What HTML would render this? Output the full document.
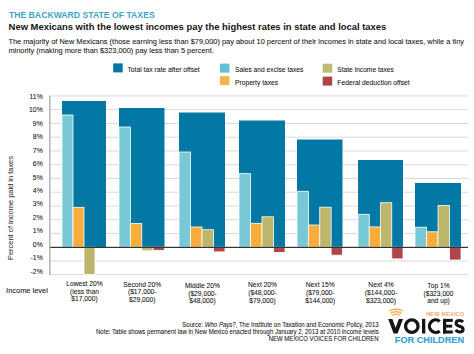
<!DOCTYPE html>
<html><head><meta charset="utf-8">
<style>
html,body{margin:0;padding:0;}
body{width:474px;height:354px;overflow:hidden;background:#fff;}
svg{position:absolute;left:0;top:0;font-family:"Liberation Sans",sans-serif;}
</style></head><body>
<svg width="474" height="354">
<rect x="50" y="95.45" width="418" height="1" fill="#d9d9d9"/>
<rect x="50" y="109.20" width="418" height="1" fill="#d9d9d9"/>
<rect x="50" y="122.95" width="418" height="1" fill="#d9d9d9"/>
<rect x="50" y="136.70" width="418" height="1" fill="#d9d9d9"/>
<rect x="50" y="150.45" width="418" height="1" fill="#d9d9d9"/>
<rect x="50" y="164.20" width="418" height="1" fill="#d9d9d9"/>
<rect x="50" y="177.95" width="418" height="1" fill="#d9d9d9"/>
<rect x="50" y="191.70" width="418" height="1" fill="#d9d9d9"/>
<rect x="50" y="205.45" width="418" height="1" fill="#d9d9d9"/>
<rect x="50" y="219.20" width="418" height="1" fill="#d9d9d9"/>
<rect x="50" y="232.95" width="418" height="1" fill="#d9d9d9"/>
<rect x="50" y="260.45" width="418" height="1" fill="#d9d9d9"/>
<rect x="50" y="274.20" width="418" height="1" fill="#d9d9d9"/>
<rect x="62" y="101" width="44" height="146.2" fill="#0478a5"/>
<rect x="62.00" y="115.00" width="11.00" height="132.20" fill="#78c8d6" stroke="#fff" stroke-width="0.8"/>
<rect x="73.00" y="207.30" width="11.00" height="39.90" fill="#f6ad3c" stroke="#fff" stroke-width="0.8"/>
<rect x="84.00" y="247.20" width="11.00" height="27.20" fill="#bcb56c" stroke="#fff" stroke-width="0.8"/>
<rect x="119" y="108" width="45.5" height="139.2" fill="#0478a5"/>
<rect x="119.00" y="127.00" width="11.38" height="120.20" fill="#78c8d6" stroke="#fff" stroke-width="0.8"/>
<rect x="130.38" y="223.40" width="11.38" height="23.80" fill="#f6ad3c" stroke="#fff" stroke-width="0.8"/>
<rect x="141.75" y="247.20" width="11.38" height="3.60" fill="#bcb56c" stroke="#fff" stroke-width="0.8"/>
<rect x="153.12" y="247.20" width="11.38" height="3.10" fill="#ad4549" stroke="#fff" stroke-width="0.8"/>
<rect x="179" y="112.5" width="46" height="134.7" fill="#0478a5"/>
<rect x="179.00" y="152.00" width="11.50" height="95.20" fill="#78c8d6" stroke="#fff" stroke-width="0.8"/>
<rect x="190.50" y="227.00" width="11.50" height="20.20" fill="#f6ad3c" stroke="#fff" stroke-width="0.8"/>
<rect x="202.00" y="229.70" width="11.50" height="17.50" fill="#bcb56c" stroke="#fff" stroke-width="0.8"/>
<rect x="213.50" y="247.20" width="11.50" height="4.70" fill="#ad4549" stroke="#fff" stroke-width="0.8"/>
<rect x="239" y="120.5" width="46" height="126.69999999999999" fill="#0478a5"/>
<rect x="239.00" y="173.60" width="11.50" height="73.60" fill="#78c8d6" stroke="#fff" stroke-width="0.8"/>
<rect x="250.50" y="223.30" width="11.50" height="23.90" fill="#f6ad3c" stroke="#fff" stroke-width="0.8"/>
<rect x="262.00" y="216.80" width="11.50" height="30.40" fill="#bcb56c" stroke="#fff" stroke-width="0.8"/>
<rect x="273.50" y="247.20" width="11.50" height="5.20" fill="#ad4549" stroke="#fff" stroke-width="0.8"/>
<rect x="297" y="139.5" width="45.5" height="107.69999999999999" fill="#0478a5"/>
<rect x="297.00" y="191.30" width="11.38" height="55.90" fill="#78c8d6" stroke="#fff" stroke-width="0.8"/>
<rect x="308.38" y="225.00" width="11.38" height="22.20" fill="#f6ad3c" stroke="#fff" stroke-width="0.8"/>
<rect x="319.75" y="207.20" width="11.38" height="40.00" fill="#bcb56c" stroke="#fff" stroke-width="0.8"/>
<rect x="331.12" y="247.20" width="11.38" height="8.00" fill="#ad4549" stroke="#fff" stroke-width="0.8"/>
<rect x="358" y="160" width="45" height="87.19999999999999" fill="#0478a5"/>
<rect x="358.00" y="214.30" width="11.25" height="32.90" fill="#78c8d6" stroke="#fff" stroke-width="0.8"/>
<rect x="369.25" y="226.90" width="11.25" height="20.30" fill="#f6ad3c" stroke="#fff" stroke-width="0.8"/>
<rect x="380.50" y="202.70" width="11.25" height="44.50" fill="#bcb56c" stroke="#fff" stroke-width="0.8"/>
<rect x="391.75" y="247.20" width="11.25" height="11.70" fill="#ad4549" stroke="#fff" stroke-width="0.8"/>
<rect x="415" y="183" width="46" height="64.19999999999999" fill="#0478a5"/>
<rect x="415.00" y="227.20" width="11.50" height="20.00" fill="#78c8d6" stroke="#fff" stroke-width="0.8"/>
<rect x="426.50" y="231.80" width="11.50" height="15.40" fill="#f6ad3c" stroke="#fff" stroke-width="0.8"/>
<rect x="438.00" y="205.50" width="11.50" height="41.70" fill="#bcb56c" stroke="#fff" stroke-width="0.8"/>
<rect x="449.50" y="247.20" width="11.50" height="12.80" fill="#ad4549" stroke="#fff" stroke-width="0.8"/>
<rect x="50" y="246.8" width="418" height="1.2" fill="#333"/>
<rect x="49.3" y="95.7" width="1.1" height="179.3" fill="#9a9a9a"/>
<rect x="113.2" y="63.4" width="9.5" height="9" fill="#0478a5"/>
<rect x="220" y="63.6" width="9.5" height="9" fill="#5fc2d2"/>
<rect x="220" y="76.1" width="9.5" height="9" fill="#f8b24e"/>
<rect x="322.7" y="63.7" width="9.5" height="9" fill="#bfba6e"/>
<rect x="322.7" y="76.6" width="9.5" height="9" fill="#ad4549"/>
<text x="8.90" y="18.40" font-size="8.65" fill="#3ea4c6" text-anchor="start" font-weight="bold" textLength="145.8" lengthAdjust="spacingAndGlyphs">THE BACKWARD STATE OF TAXES</text>
<text x="8.60" y="30.20" font-size="9.9" fill="#151515" text-anchor="start" font-weight="bold" textLength="377.7" lengthAdjust="spacingAndGlyphs">New Mexicans with the lowest incomes pay the highest rates in state and local taxes</text>
<text x="8.40" y="43.80" font-size="7.4" fill="#111" text-anchor="start" stroke="#111" stroke-width="0.06" textLength="455.6" lengthAdjust="spacingAndGlyphs">The majority of New Mexicans (those earning less than $79,000) pay about 10 percent of their incomes in state and local taxes, while a tiny</text>
<text x="8.40" y="52.70" font-size="7.4" fill="#111" text-anchor="start" stroke="#111" stroke-width="0.06">minority (making more than $323,000) pay less than 5 percent.</text>
<text x="127.50" y="71.80" font-size="6.74" fill="#111" text-anchor="start" stroke="#111" stroke-width="0.06" textLength="72.2" lengthAdjust="spacingAndGlyphs">Total tax rate after offset</text>
<text x="235.00" y="72.00" font-size="6.7" fill="#111" text-anchor="start" stroke="#111" stroke-width="0.06">Sales and excise taxes</text>
<text x="235.00" y="85.00" font-size="6.7" fill="#111" text-anchor="start" stroke="#111" stroke-width="0.06">Property taxes</text>
<text x="337.30" y="72.00" font-size="6.7" fill="#111" text-anchor="start" stroke="#111" stroke-width="0.06" textLength="56.5" lengthAdjust="spacingAndGlyphs">State income taxes</text>
<text x="337.30" y="85.00" font-size="6.76" fill="#111" text-anchor="start" stroke="#111" stroke-width="0.06" textLength="72.4" lengthAdjust="spacingAndGlyphs">Federal deduction offset</text>
<text x="42.80" y="98.70" font-size="6.9" fill="#111" text-anchor="end" stroke="#111" stroke-width="0.06">11%</text>
<text x="42.80" y="112.17" font-size="6.9" fill="#111" text-anchor="end" stroke="#111" stroke-width="0.06">10%</text>
<text x="42.80" y="125.64" font-size="6.9" fill="#111" text-anchor="end" stroke="#111" stroke-width="0.06">9%</text>
<text x="42.80" y="139.11" font-size="6.9" fill="#111" text-anchor="end" stroke="#111" stroke-width="0.06">8%</text>
<text x="42.80" y="152.58" font-size="6.9" fill="#111" text-anchor="end" stroke="#111" stroke-width="0.06">7%</text>
<text x="42.80" y="166.05" font-size="6.9" fill="#111" text-anchor="end" stroke="#111" stroke-width="0.06">6%</text>
<text x="42.80" y="179.52" font-size="6.9" fill="#111" text-anchor="end" stroke="#111" stroke-width="0.06">5%</text>
<text x="42.80" y="192.99" font-size="6.9" fill="#111" text-anchor="end" stroke="#111" stroke-width="0.06">4%</text>
<text x="42.80" y="206.46" font-size="6.9" fill="#111" text-anchor="end" stroke="#111" stroke-width="0.06">3%</text>
<text x="42.80" y="219.93" font-size="6.9" fill="#111" text-anchor="end" stroke="#111" stroke-width="0.06">2%</text>
<text x="42.80" y="233.40" font-size="6.9" fill="#111" text-anchor="end" stroke="#111" stroke-width="0.06">1%</text>
<text x="42.80" y="246.87" font-size="6.9" fill="#111" text-anchor="end" stroke="#111" stroke-width="0.06">0%</text>
<text x="42.80" y="260.34" font-size="6.9" fill="#111" text-anchor="end" stroke="#111" stroke-width="0.06">-1%</text>
<text x="42.80" y="273.81" font-size="6.9" fill="#111" text-anchor="end" stroke="#111" stroke-width="0.06">-2%</text>
<text x="0" y="0" font-size="7.4" fill="#222" text-anchor="middle" transform="translate(13.3,208) rotate(-90)" textLength="104" lengthAdjust="spacingAndGlyphs">Percent of income paid in taxes</text>
<text x="6.10" y="292.90" font-size="6.5" fill="#111" text-anchor="start" stroke="#111" stroke-width="0.06" textLength="41.7" lengthAdjust="spacingAndGlyphs">Income level</text>
<text x="84.50" y="286.10" font-size="6.7" fill="#111" text-anchor="middle" stroke="#111" stroke-width="0.06">Lowest 20%</text>
<text x="84.50" y="293.90" font-size="6.7" fill="#111" text-anchor="middle" stroke="#111" stroke-width="0.06">(less than</text>
<text x="84.50" y="301.40" font-size="6.7" fill="#111" text-anchor="middle" stroke="#111" stroke-width="0.06">$17,000)</text>
<text x="142.25" y="286.60" font-size="6.7" fill="#111" text-anchor="middle" stroke="#111" stroke-width="0.06">Second 20%</text>
<text x="142.25" y="294.40" font-size="6.7" fill="#111" text-anchor="middle" stroke="#111" stroke-width="0.06">($17,000-</text>
<text x="142.25" y="301.90" font-size="6.7" fill="#111" text-anchor="middle" stroke="#111" stroke-width="0.06">$29,000)</text>
<text x="202.50" y="287.70" font-size="6.7" fill="#111" text-anchor="middle" stroke="#111" stroke-width="0.06">Middle 20%</text>
<text x="202.50" y="295.60" font-size="6.7" fill="#111" text-anchor="middle" stroke="#111" stroke-width="0.06">($29,000-</text>
<text x="202.50" y="303.40" font-size="6.7" fill="#111" text-anchor="middle" stroke="#111" stroke-width="0.06">$48,000)</text>
<text x="262.50" y="287.40" font-size="6.7" fill="#111" text-anchor="middle" stroke="#111" stroke-width="0.06">Next 20%</text>
<text x="262.50" y="295.40" font-size="6.7" fill="#111" text-anchor="middle" stroke="#111" stroke-width="0.06">($48,000-</text>
<text x="262.50" y="303.00" font-size="6.7" fill="#111" text-anchor="middle" stroke="#111" stroke-width="0.06">$79,000)</text>
<text x="320.25" y="287.10" font-size="6.7" fill="#111" text-anchor="middle" stroke="#111" stroke-width="0.06">Next 15%</text>
<text x="320.25" y="295.00" font-size="6.7" fill="#111" text-anchor="middle" stroke="#111" stroke-width="0.06">($79,000-</text>
<text x="320.25" y="302.60" font-size="6.7" fill="#111" text-anchor="middle" stroke="#111" stroke-width="0.06">$144,000)</text>
<text x="381.00" y="287.10" font-size="6.7" fill="#111" text-anchor="middle" stroke="#111" stroke-width="0.06">Next 4%</text>
<text x="381.00" y="295.00" font-size="6.7" fill="#111" text-anchor="middle" stroke="#111" stroke-width="0.06">($144,000-</text>
<text x="381.00" y="303.00" font-size="6.7" fill="#111" text-anchor="middle" stroke="#111" stroke-width="0.06">$323,000)</text>
<text x="438.50" y="288.20" font-size="6.7" fill="#111" text-anchor="middle" stroke="#111" stroke-width="0.06">Top 1%</text>
<text x="438.50" y="295.60" font-size="6.7" fill="#111" text-anchor="middle" stroke="#111" stroke-width="0.06">($323,000</text>
<text x="438.50" y="303.30" font-size="6.7" fill="#111" text-anchor="middle" stroke="#111" stroke-width="0.06">and up)</text>
<text x="378.70" y="327.10" font-size="6.5" fill="#111" text-anchor="end" stroke="#111" stroke-width="0.06" textLength="196.4" lengthAdjust="spacingAndGlyphs">Source: <tspan font-style="italic">Who Pays?</tspan>, The Institute on Taxation and Economic Policy, 2013</text>
<text x="378.70" y="334.00" font-size="6.5" fill="#111" text-anchor="end" stroke="#111" stroke-width="0.06" textLength="282.7" lengthAdjust="spacingAndGlyphs">Note: Table shows permanent law in New Mexico enacted through January 2, 2013 at 2010 income levels</text>
<text x="378.70" y="341.00" font-size="6.5" fill="#111" text-anchor="end" stroke="#111" stroke-width="0.06" textLength="110" lengthAdjust="spacingAndGlyphs">NEW MEXICO VOICES FOR CHILDREN</text>
<defs><linearGradient id="wg" x1="0" y1="0" x2="0" y2="1"><stop offset="0" stop-color="#eea676"/><stop offset="1" stop-color="#f5cf4a"/></linearGradient></defs>
<g fill="none" stroke="url(#wg)" stroke-width="1.5" stroke-linecap="butt">
<path d="M388.9 311.2 Q396 307.3 403.1 311.2"/>
<path d="M390.4 313.5 Q396 310.0 401.7 313.5"/>
<path d="M392.0 315.6 Q396.2 312.7 400.4 315.6"/>
</g>
<text x="426.20" y="315.60" font-size="4.7" fill="#f3ad70" text-anchor="start" font-weight="bold" textLength="38" lengthAdjust="spacingAndGlyphs">NEW MEXICO</text>
<g fill="#151515" transform="translate(0,0.5)">
<polygon points="388.2,318.4 392.4,318.4 395.6,327.2 398.8,318.4 403.0,318.4 397.6,333 393.6,333"/>
<circle cx="411.8" cy="325.7" r="6.25" fill="none" stroke="#151515" stroke-width="3.3"/>
<rect x="422" y="318.4" width="3.3" height="14.6"/>
<path d="M439.7 320.9 A6.25 6.25 0 1 0 439.7 330.5" fill="none" stroke="#151515" stroke-width="3.3"/>
<rect x="443" y="318.4" width="3.2" height="14.6"/>
<rect x="443" y="318.4" width="9.8" height="3.0"/>
<rect x="443" y="324.2" width="9.2" height="2.9"/>
<rect x="443" y="330" width="9.8" height="3.0"/>
</g>
<path transform="translate(0,0.5)" d="M463.0 321.6 C462.0 320.4 460.8 319.95 459.5 319.95 C457.5 319.95 456.1 321.1 456.1 322.8 C456.1 324.6 457.6 325.2 459.6 325.8 C461.8 326.4 463.1 327.2 463.1 329.0 C463.1 330.6 461.6 331.5 459.6 331.5 C458.0 331.5 456.6 330.8 455.6 329.6" fill="none" stroke="#151515" stroke-width="3.1"/>
<text x="394.80" y="342.70" font-size="8.3" fill="#2f9fcf" text-anchor="start" font-weight="bold" textLength="69.2" lengthAdjust="spacingAndGlyphs" stroke="#2f9fcf" stroke-width="0.1">FOR CHILDREN</text>
</svg>
</body></html>
